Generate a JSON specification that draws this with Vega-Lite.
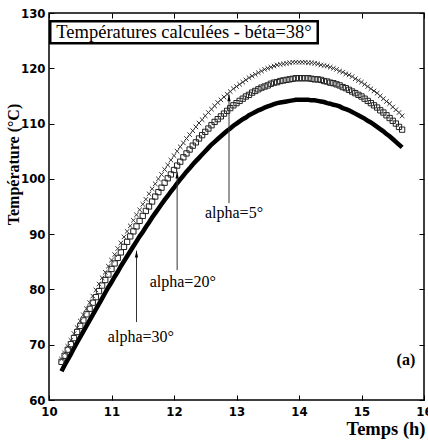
{
  "$schema": "https://vega.github.io/schema/vega-lite/v6.json",
  "width": 375,
  "height": 387,
  "autosize": "none",
  "padding": {"left": 49, "top": 13, "right": 4, "bottom": 41},
  "background": "white",
  "config": {
    "view": {"stroke": "black", "strokeWidth": 1.5},
    "axis": {"grid": false, "domain": false, "tickColor": "black", "tickSize": -5, "tickWidth": 1,
      "labelFont": "Liberation Sans Narrow, DejaVu Sans Condensed, Liberation Sans, sans-serif", "labelFontWeight": "bold",
      "labelFontSize": 13, "labelColor": "black", "labelFlush": false}
  },
  "datasets": {
    "curves": [
      {"t":10.2,"a5":67.4,"a20":66.9,"a30":65.2},
      {"t":10.25,"a5":68.5,"a20":68.0,"a30":66.3},
      {"t":10.3,"a5":69.7,"a20":69.1,"a30":67.3},
      {"t":10.35,"a5":70.8,"a20":70.1,"a30":68.3},
      {"t":10.4,"a5":72.0,"a20":71.2,"a30":69.4},
      {"t":10.45,"a5":73.1,"a20":72.3,"a30":70.4},
      {"t":10.5,"a5":74.3,"a20":73.4,"a30":71.4},
      {"t":10.55,"a5":75.4,"a20":74.4,"a30":72.4},
      {"t":10.6,"a5":76.5,"a20":75.5,"a30":73.4},
      {"t":10.65,"a5":77.6,"a20":76.5,"a30":74.4},
      {"t":10.7,"a5":78.8,"a20":77.6,"a30":75.4},
      {"t":10.75,"a5":79.9,"a20":78.6,"a30":76.4},
      {"t":10.8,"a5":81.0,"a20":79.7,"a30":77.4},
      {"t":10.85,"a5":82.1,"a20":80.7,"a30":78.4},
      {"t":10.9,"a5":83.1,"a20":81.7,"a30":79.4},
      {"t":10.95,"a5":84.2,"a20":82.7,"a30":80.4},
      {"t":11.0,"a5":85.3,"a20":83.7,"a30":81.3},
      {"t":11.05,"a5":86.3,"a20":84.7,"a30":82.3},
      {"t":11.1,"a5":87.4,"a20":85.7,"a30":83.2},
      {"t":11.15,"a5":88.4,"a20":86.7,"a30":84.2},
      {"t":11.2,"a5":89.5,"a20":87.7,"a30":85.1},
      {"t":11.25,"a5":90.5,"a20":88.6,"a30":86.0},
      {"t":11.3,"a5":91.5,"a20":89.6,"a30":86.9},
      {"t":11.35,"a5":92.5,"a20":90.5,"a30":87.8},
      {"t":11.4,"a5":93.5,"a20":91.4,"a30":88.7},
      {"t":11.45,"a5":94.4,"a20":92.4,"a30":89.6},
      {"t":11.5,"a5":95.4,"a20":93.3,"a30":90.4},
      {"t":11.55,"a5":96.3,"a20":94.2,"a30":91.3},
      {"t":11.6,"a5":97.3,"a20":95.0,"a30":92.1},
      {"t":11.65,"a5":98.2,"a20":95.9,"a30":93.0},
      {"t":11.7,"a5":99.1,"a20":96.8,"a30":93.8},
      {"t":11.75,"a5":100.0,"a20":97.6,"a30":94.6},
      {"t":11.8,"a5":100.8,"a20":98.4,"a30":95.4},
      {"t":11.85,"a5":101.7,"a20":99.3,"a30":96.2},
      {"t":11.9,"a5":102.5,"a20":100.1,"a30":96.9},
      {"t":11.95,"a5":103.4,"a20":100.8,"a30":97.7},
      {"t":12.0,"a5":104.2,"a20":101.6,"a30":98.4},
      {"t":12.05,"a5":105.0,"a20":102.4,"a30":99.2},
      {"t":12.1,"a5":105.8,"a20":103.1,"a30":99.9},
      {"t":12.15,"a5":106.5,"a20":103.9,"a30":100.6},
      {"t":12.2,"a5":107.3,"a20":104.6,"a30":101.3},
      {"t":12.25,"a5":108.0,"a20":105.3,"a30":101.9},
      {"t":12.3,"a5":108.7,"a20":106.0,"a30":102.6},
      {"t":12.35,"a5":109.4,"a20":106.6,"a30":103.2},
      {"t":12.4,"a5":110.1,"a20":107.3,"a30":103.8},
      {"t":12.45,"a5":110.7,"a20":107.9,"a30":104.4},
      {"t":12.5,"a5":111.4,"a20":108.5,"a30":105.0},
      {"t":12.55,"a5":112.0,"a20":109.1,"a30":105.6},
      {"t":12.6,"a5":112.6,"a20":109.7,"a30":106.2},
      {"t":12.65,"a5":113.2,"a20":110.3,"a30":106.7},
      {"t":12.7,"a5":113.8,"a20":110.8,"a30":107.2},
      {"t":12.75,"a5":114.3,"a20":111.3,"a30":107.7},
      {"t":12.8,"a5":114.8,"a20":111.8,"a30":108.2},
      {"t":12.85,"a5":115.3,"a20":112.3,"a30":108.7},
      {"t":12.9,"a5":115.8,"a20":112.8,"a30":109.1},
      {"t":12.95,"a5":116.3,"a20":113.3,"a30":109.6},
      {"t":13.0,"a5":116.7,"a20":113.7,"a30":110.0},
      {"t":13.05,"a5":117.1,"a20":114.1,"a30":110.4},
      {"t":13.1,"a5":117.5,"a20":114.5,"a30":110.8},
      {"t":13.15,"a5":117.9,"a20":114.9,"a30":111.1},
      {"t":13.2,"a5":118.3,"a20":115.2,"a30":111.5},
      {"t":13.25,"a5":118.6,"a20":115.6,"a30":111.8},
      {"t":13.3,"a5":118.9,"a20":115.9,"a30":112.1},
      {"t":13.35,"a5":119.2,"a20":116.2,"a30":112.4},
      {"t":13.4,"a5":119.5,"a20":116.5,"a30":112.6},
      {"t":13.45,"a5":119.8,"a20":116.7,"a30":112.9},
      {"t":13.5,"a5":120.0,"a20":116.9,"a30":113.1},
      {"t":13.55,"a5":120.2,"a20":117.2,"a30":113.3},
      {"t":13.6,"a5":120.4,"a20":117.4,"a30":113.5},
      {"t":13.65,"a5":120.6,"a20":117.5,"a30":113.7},
      {"t":13.7,"a5":120.7,"a20":117.7,"a30":113.8},
      {"t":13.75,"a5":120.8,"a20":117.8,"a30":113.9},
      {"t":13.8,"a5":120.9,"a20":117.9,"a30":114.0},
      {"t":13.85,"a5":121.0,"a20":118.0,"a30":114.1},
      {"t":13.9,"a5":121.1,"a20":118.1,"a30":114.2},
      {"t":13.95,"a5":121.1,"a20":118.2,"a30":114.3},
      {"t":14.0,"a5":121.1,"a20":118.2,"a30":114.3},
      {"t":14.05,"a5":121.1,"a20":118.2,"a30":114.3},
      {"t":14.1,"a5":121.1,"a20":118.2,"a30":114.3},
      {"t":14.15,"a5":121.0,"a20":118.2,"a30":114.3},
      {"t":14.2,"a5":121.0,"a20":118.1,"a30":114.2},
      {"t":14.25,"a5":120.9,"a20":118.0,"a30":114.2},
      {"t":14.3,"a5":120.8,"a20":118.0,"a30":114.1},
      {"t":14.35,"a5":120.6,"a20":117.9,"a30":114.0},
      {"t":14.4,"a5":120.5,"a20":117.7,"a30":113.9},
      {"t":14.45,"a5":120.4,"a20":117.6,"a30":113.7},
      {"t":14.5,"a5":120.2,"a20":117.4,"a30":113.6},
      {"t":14.55,"a5":120.0,"a20":117.3,"a30":113.4},
      {"t":14.6,"a5":119.8,"a20":117.1,"a30":113.3},
      {"t":14.65,"a5":119.5,"a20":116.9,"a30":113.1},
      {"t":14.7,"a5":119.3,"a20":116.6,"a30":112.8},
      {"t":14.75,"a5":119.0,"a20":116.4,"a30":112.6},
      {"t":14.8,"a5":118.8,"a20":116.1,"a30":112.4},
      {"t":14.85,"a5":118.5,"a20":115.8,"a30":112.1},
      {"t":14.9,"a5":118.1,"a20":115.5,"a30":111.8},
      {"t":14.95,"a5":117.8,"a20":115.2,"a30":111.5},
      {"t":15.0,"a5":117.5,"a20":114.9,"a30":111.2},
      {"t":15.05,"a5":117.1,"a20":114.5,"a30":110.9},
      {"t":15.1,"a5":116.7,"a20":114.1,"a30":110.5},
      {"t":15.15,"a5":116.3,"a20":113.7,"a30":110.2},
      {"t":15.2,"a5":115.9,"a20":113.3,"a30":109.8},
      {"t":15.25,"a5":115.5,"a20":112.9,"a30":109.4},
      {"t":15.3,"a5":115.0,"a20":112.4,"a30":109.0},
      {"t":15.35,"a5":114.5,"a20":112.0,"a30":108.6},
      {"t":15.4,"a5":114.0,"a20":111.5,"a30":108.1},
      {"t":15.45,"a5":113.6,"a20":111.0,"a30":107.7},
      {"t":15.5,"a5":113.0,"a20":110.5,"a30":107.2},
      {"t":15.55,"a5":112.5,"a20":110.0,"a30":106.7},
      {"t":15.6,"a5":112.0,"a20":109.4,"a30":106.2},
      {"t":15.65,"a5":111.4,"a20":108.9,"a30":105.7}
    ],
    "arrows": [
      {"x": 12.88, "base": 95.6, "tip": 115.3, "label": "alpha=5°", "tx": 12.96, "ty": 93.8},
      {"x": 12.05, "base": 83.5, "tip": 101.3, "label": "alpha=20°", "tx": 12.14, "ty": 81.3},
      {"x": 11.4, "base": 74.1, "tip": 87.0, "label": "alpha=30°", "tx": 11.47, "ty": 71.4}
    ],
    "titlebox": [
      {"x": 10.02, "x2": 14.3, "y": 124.55, "y2": 128.5, "cx": 12.16, "cy": 126.5, "text": "Températures calculées - béta=38°"}
    ],
    "panel": [
      {"x": 15.71, "y": 67.2, "text": "(a)"}
    ]
  },
  "layer": [
    {
      "data": {"name": "curves"},
      "mark": {"type": "line", "color": "black", "strokeWidth": 4.5},
      "encoding": {
        "x": {"field": "t", "type": "quantitative",
          "scale": {"domain": [10, 16], "nice": false, "zero": false},
          "axis": {"orient": "bottom", "values": [10, 11, 12, 13, 14, 15, 16], "labelPadding": 10,
            "title": "Temps (h)", "titleFont": "Liberation Serif, DejaVu Serif, serif", "titleFontSize": 18.5, "titleFontWeight": "bold",
            "titleColor": "black", "titleX": 376, "titleY": 28, "titleAlign": "right", "titleBaseline": "middle"}},
        "y": {"field": "a30", "type": "quantitative",
          "scale": {"domain": [60, 130], "nice": false, "zero": false},
          "axis": {"orient": "left", "values": [60, 70, 80, 90, 100, 110, 120, 130], "labelPadding": 9,
            "title": "Température (°C)", "titleFont": "Liberation Serif, DejaVu Serif, serif", "titleFontSize": 16, "titleFontWeight": "bold",
            "titleColor": "black", "titleX": -36, "titleY": 151, "titleAngle": 270, "titleAlign": "center", "titleBaseline": "middle"}}
      }
    },
    {
      "data": {"name": "curves"},
      "mark": {"type": "point", "shape": "square", "filled": false, "stroke": "#222", "strokeWidth": 1, "size": 28, "opacity": 1},
      "encoding": {
        "x": {"field": "t", "type": "quantitative", "axis": {"orient": "top", "values": [10, 11, 12, 13, 14, 15, 16], "labels": false, "title": null}},
        "y": {"field": "a20", "type": "quantitative", "axis": {"orient": "right", "values": [60, 70, 80, 90, 100, 110, 120, 130], "labels": false, "title": null}}
      }
    },
    {
      "data": {"name": "curves"},
      "mark": {"type": "point", "shape": "M-1,-1L1,1M-1,1L1,-1", "filled": false, "stroke": "#333", "strokeWidth": 1, "size": 20, "opacity": 1},
      "encoding": {
        "x": {"field": "t", "type": "quantitative", "axis": null},
        "y": {"field": "a5", "type": "quantitative", "axis": null}
      }
    },
    {
      "data": {"name": "arrows"},
      "mark": {"type": "rule", "color": "#333", "strokeWidth": 1},
      "encoding": {
        "x": {"field": "x", "type": "quantitative", "axis": null},
        "y": {"field": "base", "type": "quantitative", "axis": null},
        "y2": {"field": "tip"}
      }
    },
    {
      "data": {"name": "arrows"},
      "mark": {"type": "point", "shape": "M0,-2L-0.6,0.5L0.6,0.5Z", "filled": true, "color": "black", "size": 30, "yOffset": 5.5, "opacity": 1},
      "encoding": {
        "x": {"field": "x", "type": "quantitative", "axis": null},
        "y": {"field": "tip", "type": "quantitative", "axis": null}
      }
    },
    {
      "data": {"name": "arrows"},
      "mark": {"type": "text", "font": "Liberation Serif, DejaVu Serif, serif", "fontSize": 16, "color": "black", "align": "center", "baseline": "middle"},
      "encoding": {
        "x": {"field": "tx", "type": "quantitative", "axis": null},
        "y": {"field": "ty", "type": "quantitative", "axis": null},
        "text": {"field": "label"}
      }
    },
    {
      "data": {"name": "panel"},
      "mark": {"type": "text", "font": "Liberation Serif, DejaVu Serif, serif", "fontSize": 16, "fontWeight": "bold", "color": "black", "align": "center", "baseline": "middle"},
      "encoding": {
        "x": {"field": "x", "type": "quantitative", "axis": null},
        "y": {"field": "y", "type": "quantitative", "axis": null},
        "text": {"field": "text"}
      }
    },
    {
      "data": {"name": "titlebox"},
      "mark": {"type": "rect", "fill": "white", "stroke": "black", "strokeWidth": 2.5},
      "encoding": {
        "x": {"field": "x", "type": "quantitative", "axis": null},
        "x2": {"field": "x2"},
        "y": {"field": "y", "type": "quantitative", "axis": null},
        "y2": {"field": "y2"}
      }
    },
    {
      "data": {"name": "titlebox"},
      "mark": {"type": "text", "font": "Liberation Serif, DejaVu Serif, serif", "fontSize": 18.5, "color": "black", "align": "center", "baseline": "middle"},
      "encoding": {
        "x": {"field": "cx", "type": "quantitative", "axis": null},
        "y": {"field": "cy", "type": "quantitative", "axis": null},
        "text": {"field": "text"}
      }
    }
  ]
}
